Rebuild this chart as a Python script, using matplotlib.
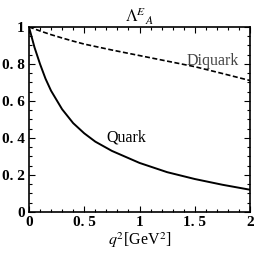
import matplotlib
matplotlib.use("Agg")
import matplotlib.pyplot as plt
from matplotlib.ticker import MultipleLocator

# values
q2_quark = [0.0, 0.05, 0.1, 0.15, 0.2, 0.3, 0.4, 0.5, 0.6, 0.75, 1.0, 1.25, 1.5, 1.75, 2.0]
quark = [1.0, 0.89, 0.80, 0.72, 0.655, 0.555, 0.48, 0.425, 0.38, 0.33, 0.265, 0.215, 0.178, 0.147, 0.12]
q2_diquark = [0.0, 0.1, 0.2, 0.3, 0.4, 0.5, 0.75, 1.0, 1.25, 1.5, 1.75, 2.0]
diquark = [1.0, 0.978, 0.958, 0.94, 0.923, 0.907, 0.875, 0.845, 0.815, 0.785, 0.748, 0.71]

plt.rcParams['font.family'] = ['Liberation Serif', 'DejaVu Serif']
plt.rcParams['mathtext.fontset'] = 'stix'

fig = plt.figure(figsize=(2.56, 2.56), dpi=100)
ax = fig.add_axes([0.113, 0.172, 0.864, 0.723])

ax.plot(q2_quark, quark, color='black', lw=1.4)
ax.plot(q2_diquark, diquark, color='black', lw=1.2, dashes=(3, 1.5))

ax.set_xlim(0, 2)
ax.set_ylim(0, 1)
ax.set_xticks([0, 0.5, 1, 1.5, 2])
ax.set_xticklabels(['0', '0. 5', '1', '1. 5', '2'])
ax.set_yticks([0, 0.2, 0.4, 0.6, 0.8, 1])
ax.set_yticklabels(['0', '0. 2', '0. 4', '0. 6', '0. 8', '1'])
ax.xaxis.set_minor_locator(MultipleLocator(0.1))
ax.yaxis.set_minor_locator(MultipleLocator(0.05))
ax.tick_params(which='both', direction='in', top=True, right=True, width=0.8)
ax.tick_params(which='major', length=4, labelsize=11, pad=3)
ax.tick_params(which='minor', length=2)
for lbl in ax.get_xticklabels() + ax.get_yticklabels():
    lbl.set_fontweight('bold')
for s in ax.spines.values():
    s.set_linewidth(1.2)

ax.set_xlabel(r'$q^2$[GeV$^2$]', fontsize=11.5, labelpad=1)
ax.set_title(r'$\Lambda^{E}{}_{A}$', fontsize=12, pad=3)

ax.text(1.665, 0.815, 'Diquark', fontsize=11.5, color='#444444', ha='center', va='center')
ax.text(0.88, 0.4, 'Quark', fontsize=11.5, color='black', ha='center', va='center')

fig.savefig('out.png', dpi=100)
